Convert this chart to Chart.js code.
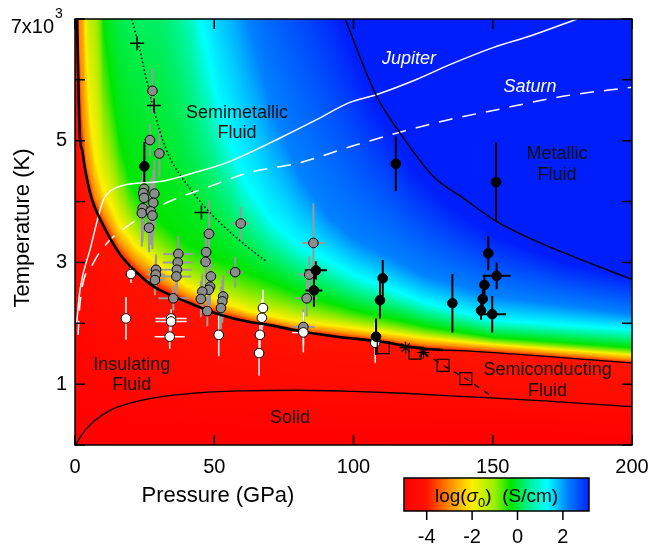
<!DOCTYPE html>
<html>
<head>
<meta charset="utf-8">
<title>Hydrogen phase diagram</title>
<script src="https://cdn.jsdelivr.net/npm/chart.js@4.4.1/dist/chart.umd.min.js"></script>
<style>
  html, body { margin: 0; padding: 0; background: #ffffff; }
  #wrap { position: relative; width: 649px; height: 548px; }
</style>
</head>
<body>
<div id="wrap"><canvas id="Chart_Phase"></canvas></div>
<script>
// pressure in GPa, temperature in 10^3 K

// --- curves [P, T] ---
var boundaryIM = [[0.7, 7.01], [1.8, 5.02], [2.5, 4.86], [3.6, 4.53], [6.1, 4.03], [9.7, 3.65], [16.2, 3.13], [22.3, 2.83],
    [28.0, 2.61], [40.2, 2.35], [52.1, 2.14], [62.8, 2.02], [70.0, 1.97], [81.9, 1.86], [94.1, 1.78], [109.5, 1.70],
    [123.9, 1.59], [132.1, 1.56]];
var boundaryHi = [[132.1, 1.56], [138.2, 1.55], [200, 1.35]];
var meltLine = [[0.3, 0.0], [1.5, 0.1], [3.6, 0.24], [7, 0.4], [12.6, 0.57], [24.5, 0.74], [42.5, 0.85], [60.4, 0.89],
    [80, 0.9], [100, 0.88], [117.9, 0.85], [138.2, 0.8], [170, 0.72], [200, 0.63]];
var metalLine = [[97.0, 7.0], [108.3, 5.73], [116.7, 5.13], [128.5, 4.42], [139.3, 4.06], [151.5, 3.67], [167.0, 3.32],
    [184.9, 2.99], [200, 2.72]];
var jupiter = [[0.6, 2.0], [1.8, 2.55], [5.4, 3.21], [10.2, 4.03], [12.6, 4.17], [18.6, 4.28], [30.5, 4.33], [42.5, 4.47],
    [54.5, 4.64], [74.7, 5.07], [86.9, 5.35], [98.7, 5.63], [108.4, 5.76], [122.8, 6.01], [134.6, 6.25], [150.1, 6.53],
    [163.4, 6.72], [180.3, 7.0]];
var saturn = [[1.1, 1.81], [1.8, 2.33], [6.6, 2.99], [12.6, 3.37], [18.6, 3.59], [32.9, 3.98], [48.5, 4.25], [62.8, 4.48],
    [80.8, 4.64], [98.7, 4.90], [116.7, 5.14], [134.6, 5.35], [151.5, 5.51], [175.2, 5.73], [200, 5.88]];
var dottedLine = [[20.4, 7.0], [22.6, 6.62], [28.0, 5.56], [32.7, 4.86], [42.4, 4.15], [51.0, 3.70], [61.8, 3.26], [68.9, 3.01]];
var dashP = [125.1, 132.2, 140.3, 149.0];
var dashT = [1.52, 1.31, 1.09, 0.82];

// --- conductivity contours for the colour field, log(sigma0) levels ---
var cM3 = [[1.0, 12], [1.5, 7.0], [2.6, 5.5], [4, 4.7], [7, 4.1], [10.5, 3.75], [16, 3.3], [22, 3.0], [28, 2.78], [40, 2.45],
    [52, 2.23], [63, 2.09], [80, 1.93], [100, 1.82], [125, 1.66], [150, 1.58], [200, 1.40]];
var cM2 = [[2.5, 12], [3.5, 7.0], [5, 5.6], [7, 4.75], [10, 4.2], [16, 3.6], [22, 3.25], [28, 3.03], [40, 2.62], [52, 2.36],
    [63, 2.19], [80, 2.03], [100, 1.92], [125, 1.76], [150, 1.65], [200, 1.48]];
var cGreen = [[7, 12], [10, 7.0], [13, 5.9], [16, 5.0], [20, 4.3], [25, 3.9], [30, 3.7], [40, 3.3], [50, 3.08], [60, 2.88],
    [80, 2.5], [100, 2.22], [125, 1.96], [150, 1.77], [200, 1.6]];
var cCyan = [[30, 12], [45, 7.0], [52, 5.5], [60, 4.4], [70, 3.7], [80, 3.3], [100, 2.8], [125, 2.35], [150, 2.05], [200, 1.9]];
var cLBlue = [[40, 12], [62, 7.0], [70, 5.6], [80, 4.5], [90, 3.8], [100, 3.4], [125, 2.8], [150, 2.45], [200, 2.15]];
var cDBlue = [[60, 12], [95, 7.0], [105, 5.8], [120, 4.6], [135, 3.9], [150, 3.45], [175, 3.0], [200, 2.75]];
var fieldLevels = [-4, -3, -2, -0.3, 1.3, 2.2, 3.2];
var fieldTop = 12;

// colour map (log sigma0 -> rgb)
var cmapLevels = [-5, -4, -3, -2, -1, -0.3, 0.5, 1.3, 2.2, 3.2];
var cmapColors = [[255, 0, 0], [255, 20, 0], [255, 140, 0], [255, 240, 0], [150, 240, 0], [0, 230, 0], [0, 240, 150],
    [0, 255, 255], [0, 130, 255], [0, 30, 250]];
var cbarMin = -5, cbarMax = 3.15;
var cbarTicks = [-4, -2, 0, 2];

// --- measurements ---
var grayP = [27.8, 26.9, 30.3, 24.8, 24.5, 24.8, 24.3, 24.0, 28.5, 28.1, 27.2, 27.8, 26.6, 48.1, 59.5, 47.1, 46.9, 37.1, 36.9, 36.6,
    36.4, 29.1, 29.0, 28.7, 57.5, 48.8, 48.5, 48.0, 45.7, 45.2, 53.2, 52.9, 52.4, 47.5, 35.3, 85.6, 84.1, 83.2, 82.0];
var grayT = [5.82, 5.01, 4.79, 4.21, 4.14, 4.06, 3.89, 3.81, 4.13, 3.98, 3.84, 3.77, 3.57, 3.47, 3.64, 3.17, 3.01, 3.14, 3.00, 2.88,
    2.77, 2.88, 2.80, 2.71, 2.84, 2.77, 2.60, 2.55, 2.52, 2.40, 2.44, 2.36, 2.25, 2.20, 2.41, 3.32, 2.80, 2.41, 1.94];
var grayDT = [0.37, 0.27, 0.4, 0.55, 0.55, 0.55, 0.55, 0.55, 0.55, 0.55, 0.55, 0.55, 0.4, 0.55, 0.27, 0.4, 0.4, 0.3, 0.3, 0.3,
    0.3, 0.25, 0.25, 0.25, 0.25, 0.3, 0.3, 0.3, 0.3, 0.3, 0.35, 0.35, 0.35, 0.25, 0.2, 0.65, 0.3, 0.3, 0.3];
var grayDP = [0, 0, 0, 0, 0, 0, 0, 0, 0, 0, 0, 0, 0, 0, 3, 0, 0, 5.4, 5.4, 5.4,
    5.4, 3.2, 3.2, 3.2, 3, 0, 0, 0, 0, 0, 0, 0, 0, 0, 5.4, 4, 4, 4, 4];

var whiteP = [20.1, 18.3, 34.5, 34.5, 34.0, 51.6, 67.5, 67.1, 66.4, 66.1, 82.0, 107.8];
var whiteT = [2.81, 2.08, 2.08, 2.03, 1.78, 1.81, 2.25, 2.09, 1.81, 1.51, 1.85, 1.68];
var whiteDT = [0.15, 0.35, 0.15, 0.15, 0.2, 0.35, 0.3, 0.3, 0.3, 0.37, 0.33, 0.33];
var whiteDP = [0, 0, 5.6, 5.6, 5.4, 0, 0, 0, 0, 0, 4, 0];

var blackP = [24.9, 115.2, 151.2, 86.5, 85.8, 110.5, 109.5, 108.1, 135.5, 148.4, 151.4, 147.0, 146.4, 145.8, 149.8];
var blackT = [4.58, 4.62, 4.32, 2.87, 2.54, 2.74, 2.38, 1.78, 2.33, 3.15, 2.78, 2.63, 2.40, 2.21, 2.15];
var blackDT = [0.4, 0.45, 0.65, 0.15, 0.27, 0.3, 0.3, 0.3, 0.48, 0.28, 0.22, 0.15, 0.15, 0.15, 0.3];
var blackDP = [0, 0, 0, 4, 3, 0, 0, 0, 0, 0, 5, 0, 0, 0, 5];

var crossP = [22.3, 28.4, 45.4];
var crossT = [6.6, 5.58, 3.82];
var squareP = [110.7, 122.1, 132.2, 140.3];
var squareT = [1.60, 1.51, 1.31, 1.09];
var starP = [118.7, 125.1];
var starT = [1.60, 1.52];

// --- region labels ---
var noteText = [['Semimetallic', 'Fluid'], ['Metallic', 'Fluid'], ['Insulating', 'Fluid'], ['Semiconducting', 'Fluid'], ['Solid'], ['Jupiter'], ['Saturn']];
var noteP = [58.2, 173.1, 20.4, 169.7, 77.2, 119.9, 163.4];
var noteT = [5.29, 4.61, 1.15, 1.06, 0.44, 6.35, 5.89];
var noteWhite = [false, false, false, false, false, true, true];

var FONT = "'Liberation Sans', Arial, Helvetica, sans-serif";
Chart.defaults.font.family = FONT;
Chart.defaults.color = '#000';


function fPairs(list) {
    var out = [];
    for (var i = 0; i < list.length; i++) { out.push({ x: list[i][0], y: list[i][1] }); }
    return out;
}
function fXY(P, T) {
    var out = [];
    for (var i = 0; i < P.length; i++) { out.push({ x: P[i], y: T[i] }); }
    return out;
}
function fRGB(c) { return 'rgb(' + Math.round(c[0]) + ',' + Math.round(c[1]) + ',' + Math.round(c[2]) + ')'; }
function fCmap(v) {
    if (v <= cmapLevels[0]) return cmapColors[0];
    for (var i = 1; i < cmapLevels.length; i++) {
        if (v <= cmapLevels[i]) {
            var f = (v - cmapLevels[i - 1]) / (cmapLevels[i] - cmapLevels[i - 1]);
            var a = cmapColors[i - 1], b = cmapColors[i];
            return [a[0] + (b[0] - a[0]) * f, a[1] + (b[1] - a[1]) * f, a[2] + (b[2] - a[2]) * f];
        }
    }
    return cmapColors[cmapColors.length - 1];
}
// T of a contour at pressure P (straight pieces between read points)
function fCurveT(curve, P) {
    if (P < curve[0][0]) return fieldTop;
    for (var i = 1; i < curve.length; i++) {
        if (P <= curve[i][0]) {
            var a = curve[i - 1], b = curve[i];
            return a[1] + (b[1] - a[1]) * (P - a[0]) / (b[0] - a[0]);
        }
    }
    return curve[curve.length - 1][1];
}

var fieldCurves = [boundaryIM.concat(boundaryHi.slice(1)), cM3, cM2, cGreen, cCyan, cLBlue, cDBlue];

function fDrawField(chart) {
    var ctx = chart.ctx, a = chart.chartArea, xs = chart.scales.x, ys = chart.scales.y;
    var yBot = ys.getPixelForValue(0), yTop = ys.getPixelForValue(fieldTop);
    for (var px = Math.floor(a.left); px < Math.ceil(a.right); px++) {
        var P = xs.getValueForPixel(px + 0.5);
        var g = ctx.createLinearGradient(0, yBot, 0, yTop);
        g.addColorStop(0, fRGB(fCmap(cbarMin)));
        var last = 0;
        for (var k = 0; k < fieldCurves.length; k++) {
            var t = Math.min(1, Math.max(last, fCurveT(fieldCurves[k], P) / fieldTop));
            g.addColorStop(t, fRGB(fCmap(fieldLevels[k])));
            last = t;
        }
        g.addColorStop(1, fRGB(fCmap(fieldLevels[fieldLevels.length - 1])));
        ctx.fillStyle = g;
        ctx.fillRect(px, a.top, 1, a.bottom - a.top);
    }
}

var ErrSets = [
    { P: grayP, T: grayT, dP: grayDP, dT: grayDT, color: '#9a9a9a', width: 2 },
    { P: whiteP, T: whiteT, dP: whiteDP, dT: whiteDT, color: '#ffffff', width: 1.5 },
    { P: blackP, T: blackT, dP: blackDP, dT: blackDT, color: '#000000', width: 2 }
];

function fDrawErrBars(chart) {
    var ctx = chart.ctx, xs = chart.scales.x, ys = chart.scales.y;
    for (var s = 0; s < ErrSets.length; s++) {
        var E = ErrSets[s];
        ctx.strokeStyle = E.color; ctx.lineWidth = E.width;
        ctx.beginPath();
        for (var i = 0; i < E.P.length; i++) {
            var x = xs.getPixelForValue(E.P[i]), y = ys.getPixelForValue(E.T[i]);
            if (E.dT[i] > 0) {
                ctx.moveTo(x, ys.getPixelForValue(E.T[i] - E.dT[i]));
                ctx.lineTo(x, ys.getPixelForValue(E.T[i] + E.dT[i]));
            }
            if (E.dP[i] > 0) {
                ctx.moveTo(xs.getPixelForValue(E.P[i] - E.dP[i]), y);
                ctx.lineTo(xs.getPixelForValue(E.P[i] + E.dP[i]), y);
            }
        }
        ctx.stroke();
    }
}

function fDrawNotes(chart) {
    var ctx = chart.ctx, xs = chart.scales.x, ys = chart.scales.y;
    ctx.textAlign = 'center'; ctx.textBaseline = 'middle';
    for (var i = 0; i < noteText.length; i++) {
        var lines = noteText[i];
        var cx = xs.getPixelForValue(noteP[i]), cy = ys.getPixelForValue(noteT[i]);
        ctx.fillStyle = noteWhite[i] ? '#ffffff' : '#111111';
        ctx.font = (noteWhite[i] ? 'italic ' : '') + '18px ' + FONT;
        for (var j = 0; j < lines.length; j++) {
            ctx.fillText(lines[j], cx, cy + (j - (lines.length - 1) / 2) * 20.5);
        }
    }
}

function fDrawFrame(chart) {
    var ctx = chart.ctx, a = chart.chartArea, xs = chart.scales.x, ys = chart.scales.y;
    var tl = 10;
    ctx.strokeStyle = '#000'; ctx.lineWidth = 1.5;
    ctx.beginPath();
    xs.ticks.forEach(function (t) {
        var x = xs.getPixelForValue(t.value);
        ctx.moveTo(x, a.bottom); ctx.lineTo(x, a.bottom - tl);
        ctx.moveTo(x, a.top); ctx.lineTo(x, a.top + tl);
    });
    ys.ticks.forEach(function (t) {
        var y = ys.getPixelForValue(t.value);
        ctx.moveTo(a.left, y); ctx.lineTo(a.left + tl, y);
        ctx.moveTo(a.right, y); ctx.lineTo(a.right - tl, y);
    });
    ctx.stroke();
    ctx.strokeRect(a.left, a.top, a.right - a.left, a.bottom - a.top);
}

function fDrawTitles(chart) {
    var ctx = chart.ctx, a = chart.chartArea, ys = chart.scales.y;
    ctx.fillStyle = '#000';
    ctx.font = '22px ' + FONT;
    ctx.textAlign = 'center'; ctx.textBaseline = 'middle';
    ctx.fillText('Pressure (GPa)', 218, 496);
    ctx.save();
    ctx.translate(23, (a.top + a.bottom) / 2 - 4);
    ctx.rotate(-Math.PI / 2);
    ctx.fillText('Temperature (K)', 0, 0);
    ctx.restore();
    // top y label with the power of ten
    var y7 = ys.getPixelForValue(7);
    ctx.textBaseline = 'alphabetic';
    ctx.textAlign = 'right';
    ctx.font = '20px ' + FONT;
    ctx.fillText('7x10', 54, y7 + 14);
    ctx.textAlign = 'left';
    ctx.font = '14px ' + FONT;
    ctx.fillText('3', 55, y7 - 1);
}

function fDrawColorBar(chart) {
    var ctx = chart.ctx;
    var L = 404, R = 589, T = 478, B = 511;
    var px = function (v) { return L + (v - cbarMin) / (cbarMax - cbarMin) * (R - L); };
    var g = ctx.createLinearGradient(L, 0, R, 0);
    for (var i = 0; i < cmapLevels.length; i++) {
        var f = (cmapLevels[i] - cbarMin) / (cbarMax - cbarMin);
        if (f >= 0 && f <= 1) g.addColorStop(f, fRGB(cmapColors[i]));
    }
    g.addColorStop(1, fRGB(fCmap(cbarMax)));
    ctx.fillStyle = g;
    ctx.fillRect(L, T, R - L, B - T);
    ctx.strokeStyle = '#000'; ctx.lineWidth = 1.5;
    ctx.strokeRect(L, T, R - L, B - T);
    ctx.beginPath();
    for (var k = 0; k < cbarTicks.length; k++) {
        ctx.moveTo(px(cbarTicks[k]), B); ctx.lineTo(px(cbarTicks[k]), B + 9);
    }
    ctx.stroke();
    ctx.fillStyle = '#000';
    ctx.font = '20px ' + FONT;
    ctx.textAlign = 'center'; ctx.textBaseline = 'alphabetic';
    for (var k = 0; k < cbarTicks.length; k++) {
        ctx.fillText(String(cbarTicks[k]), px(cbarTicks[k]), 543);
    }
    // label: log(sigma_0)  (S/cm)
    var parts = [['log(', '19px ', 0], ['\u03C3', 'italic 19px ', 0], ['0', '13px ', 5], [')  (S/cm)', '19px ', 0]];
    var total = 0;
    for (var p = 0; p < parts.length; p++) { ctx.font = parts[p][1] + FONT; total += ctx.measureText(parts[p][0]).width; }
    var x = (L + R) / 2 - total / 2;
    ctx.textAlign = 'left';
    for (var p = 0; p < parts.length; p++) {
        ctx.font = parts[p][1] + FONT;
        ctx.fillText(parts[p][0], x, 502 + parts[p][2]);
        x += ctx.measureText(parts[p][0]).width;
    }
}

var phasePlugin = {
    id: 'phase',
    beforeDatasetsDraw: function (chart) {
        var ctx = chart.ctx, a = chart.chartArea;
        ctx.save();
        ctx.beginPath(); ctx.rect(a.left, a.top, a.right - a.left, a.bottom - a.top); ctx.clip();
        fDrawField(chart);
        fDrawErrBars(chart);
        ctx.restore();
    },
    afterDatasetsDraw: function (chart) {
        var ctx = chart.ctx;
        ctx.save();
        fDrawNotes(chart);
        fDrawFrame(chart);
        ctx.restore();
    },
    afterDraw: function (chart) {
        var ctx = chart.ctx;
        ctx.save();
        fDrawTitles(chart);
        fDrawColorBar(chart);
        ctx.restore();
    }
};

function fLine(list, color, width, dash) {
    return { data: fPairs(list), showLine: true, borderColor: color, borderWidth: width, borderDash: dash || [],
        pointRadius: 0, pointHoverRadius: 0, fill: false, cubicInterpolationMode: 'monotone', clip: 0, order: 5 };
}

var DSets = [];
DSets.push({ label: 'cross', data: fXY(crossP, crossT), pointStyle: 'cross', pointRadius: 7, borderColor: '#000', borderWidth: 1.5, order: 0 });
DSets.push({ label: 'star', data: fXY(starP, starT), pointStyle: 'star', pointRadius: 6, borderColor: '#000', borderWidth: 1.2, order: 0 });
DSets.push({ label: 'square', data: fXY(squareP, squareT), pointStyle: 'rect', pointRadius: 8.5, backgroundColor: 'rgba(0,0,0,0)', borderColor: '#000', borderWidth: 1.2, order: 1 });
DSets.push({ label: 'black', data: fXY(blackP, blackT), pointRadius: 4.8, backgroundColor: '#000', borderColor: '#000', borderWidth: 1, order: 1 });
DSets.push({ label: 'white', data: fXY(whiteP, whiteT), pointRadius: 4.8, backgroundColor: '#fff', borderColor: '#000', borderWidth: 1, order: 1 });
DSets.push({ label: 'gray', data: fXY(grayP, grayT), pointRadius: 4.8, backgroundColor: '#8c8c8c', borderColor: '#000', borderWidth: 1, order: 2 });
DSets.push(fLine(boundaryIM, '#000', 2.6));
DSets.push(fLine(boundaryHi, '#000', 1.3));
DSets.push(fLine(meltLine, '#000', 1.3));
DSets.push(fLine(metalLine, '#000', 1.4));
DSets.push(fLine(jupiter, '#fff', 1.5));
DSets.push(fLine(saturn, '#fff', 1.5, [14, 10]));
DSets.push(fLine(dottedLine, '#000', 1.5, [1.5, 2.5]));
var dashSet = fLine([], '#000', 1.3, [6, 6]);
dashSet.data = fXY(dashP, dashT); dashSet.cubicInterpolationMode = 'default'; dashSet.tension = 0;
DSets.push(dashSet);

var chart = new Chart(document.getElementById('Chart_Phase'), {
    type: 'scatter',
    data: { datasets: DSets },
    options: {
        responsive: true,
        maintainAspectRatio: false,
        animation: false,
        events: [],
        layout: { padding: { top: 19, right: 17, left: 0, bottom: 0 }, autoPadding: false },
        plugins: { legend: { display: false }, tooltip: { enabled: false } },
        scales: {
            x: {
                type: 'linear', min: 0, max: 200,
                afterFit: function (s) { s.height = 103; s.paddingLeft = 0; s.paddingRight = 0; },
                grid: { display: false, drawTicks: false },
                border: { display: false },
                ticks: { stepSize: 50, padding: 10, color: '#000', font: { size: 20 } }
            },
            y: {
                type: 'linear', min: 0, max: 7,
                afterFit: function (s) { s.width = 75; s.paddingTop = 0; s.paddingBottom = 0; },
                grid: { display: false, drawTicks: false },
                border: { display: false },
                ticks: {
                    stepSize: 1, padding: 8, color: '#000', font: { size: 20 },
                    callback: function (v) { return (v % 2 == 1 && v != 7) ? String(v) : ''; }
                }
            }
        }
    },
    plugins: [phasePlugin]
});
</script>
</body>
</html>
